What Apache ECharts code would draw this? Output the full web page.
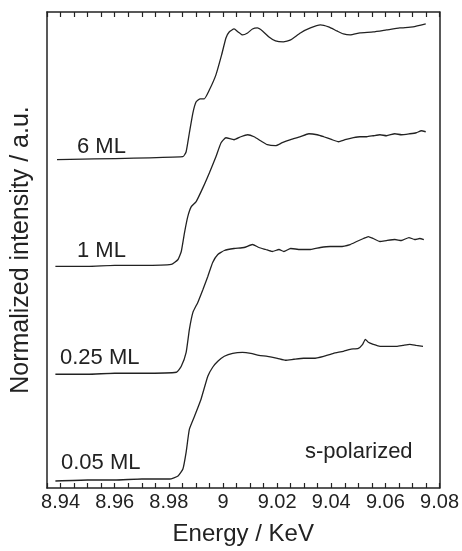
<!DOCTYPE html>
<html>
<head>
<meta charset="utf-8">
<script src="https://cdn.jsdelivr.net/npm/echarts@6/dist/echarts.min.js"></script>
<style>
  html, body { margin: 0; padding: 0; background: #fff; }
  #chart { width: 462px; height: 551px; }
</style>
</head>
<body>
<div id="chart"></div>
<script>
// energy (keV) and normalized intensity (a.u., curves stacked with offsets)
const energy6 = [8.9387, 8.9852, 8.9864, 8.9876, 8.9889, 8.9901, 8.9916, 8.9931, 8.9950, 8.9974, 8.9995, 9.0011, 9.0023, 9.0041, 9.0056, 9.0072, 9.0091, 9.0109, 9.0127, 9.0146, 9.0170, 9.0194, 9.0223, 9.0250, 9.0286, 9.0323, 9.0360, 9.0390, 9.0421, 9.0445, 9.0470, 9.0506, 9.0555, 9.0604, 9.0653, 9.0702, 9.0749];
const int6 = [3.29, 3.32, 3.37, 3.56, 3.76, 3.87, 3.90, 3.90, 3.99, 4.14, 4.34, 4.51, 4.57, 4.60, 4.57, 4.54, 4.56, 4.60, 4.61, 4.58, 4.52, 4.48, 4.47, 4.49, 4.56, 4.61, 4.64, 4.62, 4.58, 4.55, 4.54, 4.56, 4.57, 4.59, 4.61, 4.62, 4.65];

const energy1 = [8.9381, 8.9500, 8.9600, 8.9700, 8.9809, 8.9834, 8.9846, 8.9858, 8.9870, 8.9883, 8.9901, 8.9926, 8.9950, 8.9974, 8.9993, 9.0011, 9.0041, 9.0066, 9.0091, 9.0115, 9.0139, 9.0164, 9.0194, 9.0219, 9.0250, 9.0286, 9.0317, 9.0348, 9.0372, 9.0403, 9.0427, 9.0451, 9.0482, 9.0506, 9.0531, 9.0555, 9.0580, 9.0604, 9.0635, 9.0659, 9.0690, 9.0714, 9.0733, 9.0749];
const int1 = [2.22, 2.22, 2.23, 2.23, 2.24, 2.29, 2.37, 2.56, 2.72, 2.82, 2.87, 3.01, 3.16, 3.32, 3.46, 3.51, 3.49, 3.52, 3.54, 3.52, 3.48, 3.44, 3.43, 3.46, 3.49, 3.52, 3.55, 3.54, 3.52, 3.49, 3.47, 3.49, 3.51, 3.52, 3.52, 3.53, 3.54, 3.53, 3.55, 3.54, 3.55, 3.56, 3.58, 3.57];

const energy025 = [8.9381, 8.9500, 8.9600, 8.9700, 8.9828, 8.9846, 8.9864, 8.9876, 8.9889, 8.9907, 8.9926, 8.9944, 8.9962, 8.9981, 9.0005, 9.0041, 9.0078, 9.0109, 9.0133, 9.0158, 9.0182, 9.0207, 9.0225, 9.0250, 9.0286, 9.0323, 9.0360, 9.0396, 9.0433, 9.0470, 9.0494, 9.0519, 9.0537, 9.0555, 9.0580, 9.0604, 9.0635, 9.0659, 9.0687, 9.0708, 9.0727, 9.0742];
const int025 = [1.14, 1.14, 1.15, 1.15, 1.16, 1.22, 1.36, 1.59, 1.76, 1.86, 1.99, 2.12, 2.26, 2.34, 2.38, 2.40, 2.41, 2.44, 2.41, 2.39, 2.37, 2.39, 2.37, 2.40, 2.39, 2.39, 2.41, 2.42, 2.42, 2.44, 2.47, 2.50, 2.52, 2.50, 2.47, 2.48, 2.49, 2.48, 2.51, 2.49, 2.50, 2.49];

const energy005 = [8.9381, 8.9500, 8.9600, 8.9700, 8.9803, 8.9834, 8.9852, 8.9864, 8.9876, 8.9895, 8.9919, 8.9944, 8.9962, 8.9981, 9.0005, 9.0036, 9.0072, 9.0103, 9.0133, 9.0164, 9.0201, 9.0231, 9.0262, 9.0298, 9.0335, 9.0372, 9.0408, 9.0445, 9.0470, 9.0500, 9.0516, 9.0526, 9.0537, 9.0555, 9.0580, 9.0604, 9.0641, 9.0665, 9.0690, 9.0714, 9.0739];
const int005 = [0.07, 0.08, 0.08, 0.09, 0.09, 0.12, 0.19, 0.36, 0.59, 0.72, 0.89, 1.12, 1.21, 1.27, 1.32, 1.35, 1.36, 1.35, 1.33, 1.32, 1.30, 1.28, 1.29, 1.30, 1.30, 1.32, 1.35, 1.37, 1.39, 1.40, 1.44, 1.49, 1.46, 1.44, 1.42, 1.42, 1.42, 1.43, 1.44, 1.43, 1.42];

const seriesNames = ['6 ML', '1 ML', '0.25 ML', '0.05 ML'];

const ink = '#222';
const font = 'Liberation Sans, Arial, Helvetica, sans-serif';

function pairs(xs, ys) {
    return xs.map((x, i) => [x, ys[i]]);
}

const curves = [
    pairs(energy6, int6),
    pairs(energy1, int1),
    pairs(energy025, int025),
    pairs(energy005, int005)
];

const chart = echarts.init(document.getElementById('chart'));

// ticks every 0.005, labels only every 0.02
const tickLabel = function (v) {
    const m = Math.round(v * 1000);
    if (m % 20 !== 0) return '';
    return String(+(m / 1000).toFixed(2));
};

const option = {
    backgroundColor: '#fff',
    animation: false,
    grid: { left: 47, right: 22, top: 12, bottom: 62 },
    xAxis: [
        {
            type: 'value',
            min: 8.935,
            max: 9.08,
            interval: 0.005,
            name: 'Energy / KeV',
            nameLocation: 'middle',
            nameGap: 34,
            nameTextStyle: { color: ink, fontSize: 24, fontFamily: font },
            axisLine: { onZero: false, lineStyle: { color: ink, width: 1.5 } },
            axisTick: { inside: true, length: 5, lineStyle: { color: ink, width: 1.2 } },
            axisLabel: {
                color: ink, fontSize: 20, fontFamily: font, margin: 4,
                showMinLabel: true, showMaxLabel: true,
                formatter: tickLabel
            },
            splitLine: { show: false }
        },
        {
            type: 'value',
            position: 'top',
            min: 8.935,
            max: 9.08,
            interval: 0.005,
            axisLine: { onZero: false, lineStyle: { color: ink, width: 1.5 } },
            axisTick: { inside: true, length: 5, lineStyle: { color: ink, width: 1.2 } },
            axisLabel: { show: false },
            splitLine: { show: false }
        }
    ],
    yAxis: [
        {
            type: 'value',
            min: 0,
            max: 4.77,
            name: 'Normalized intensity / a.u.',
            nameLocation: 'middle',
            nameGap: 13,
            nameTextStyle: { color: ink, fontSize: 25, fontFamily: font },
            axisLine: { show: true, lineStyle: { color: ink, width: 1.5 } },
            axisTick: { show: false },
            axisLabel: { show: false },
            splitLine: { show: false }
        },
        {
            type: 'value',
            position: 'right',
            min: 0,
            max: 4.77,
            axisLine: { show: true, lineStyle: { color: ink, width: 1.5 } },
            axisTick: { show: false },
            axisLabel: { show: false },
            splitLine: { show: false }
        }
    ],
    series: curves.map((d, i) => ({
        name: seriesNames[i],
        type: 'line',
        data: d,
        showSymbol: false,
        smooth: 0.15,
        lineStyle: { color: ink, width: 1.3 }
    })),
    graphic: [
        { type: 'text', left: 77, top: 136, style: { text: '6 ML', fill: ink, font: '22px ' + font } },
        { type: 'text', left: 77, top: 240, style: { text: '1 ML', fill: ink, font: '22px ' + font } },
        { type: 'text', left: 60, top: 347, style: { text: '0.25 ML', fill: ink, font: '22px ' + font } },
        { type: 'text', left: 61, top: 452, style: { text: '0.05 ML', fill: ink, font: '22px ' + font } },
        { type: 'text', left: 305, top: 441, style: { text: 's-polarized', fill: ink, font: '22px ' + font } }
    ]
};

chart.setOption(option);
</script>
</body>
</html>
